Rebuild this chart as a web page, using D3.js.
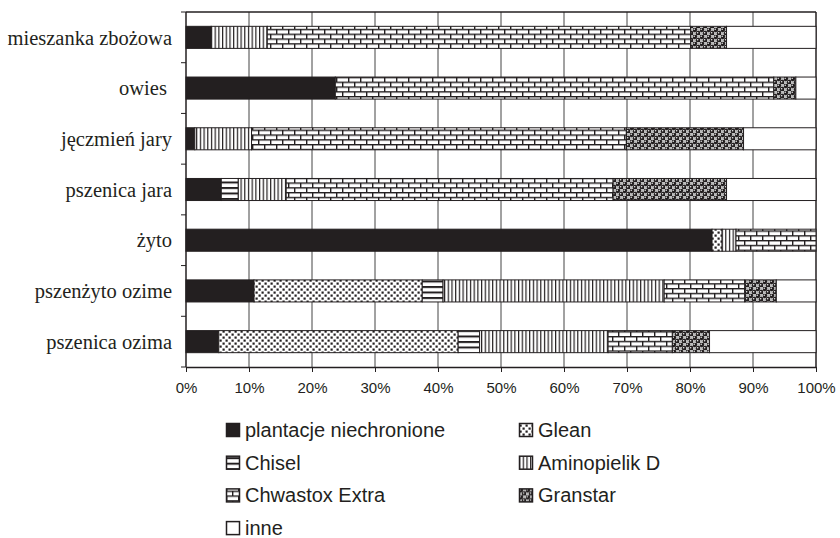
<!DOCTYPE html>
<html>
<head>
<meta charset="utf-8">
<script src="https://cdn.jsdelivr.net/npm/d3@7"></script>
<style>
	body { margin: 0; background: white; }
	svg { display: block; }
</style>
</head>
<body>
<script>
var categories = [
	'mieszanka zbożowa',
	'owies\u00A0',
	'jęczmień jary',
	'pszenica jara',
	'żyto',
	'pszenżyto ozime',
	'pszenica ozima'
]

var keys = [
	'plantacje niechronione',
	'Glean',
	'Chisel',
	'Aminopielik D',
	'Chwastox Extra',
	'Granstar',
	'inne'
]

// shares in %, in the order of categories
var niechronione = [4.0, 23.7, 1.4, 5.6, 83.5, 10.8, 5.2]
var glean        = [0, 0, 0, 0, 1.6, 26.7, 38.0]
var chisel       = [0, 0, 0, 2.7, 0, 3.3, 3.4]
var aminopielik  = [8.9, 0, 9.0, 7.6, 2.2, 35.1, 20.4]
var chwastox     = [67.2, 69.6, 59.5, 51.9, 12.7, 12.8, 10.2]
var granstar     = [5.7, 3.5, 18.6, 18.0, 0, 5.0, 5.9]
var inne         = [14.2, 3.2, 11.5, 14.2, 0, 6.3, 16.9]

var xTicks = [0, 10, 20, 30, 40, 50, 60, 70, 80, 90, 100]

var series = [niechronione, glean, chisel, aminopielik, chwastox, granstar, inne]

var rows = categories.map(function(c, i) {
	var r = {category: c}
	keys.forEach(function(k, j) { r[k] = series[j][i] })
	return r
})

var width = 840,
	height = 538

var svg = d3.select('body').append('svg')
	.attr('width', width)
	.attr('height', height)

var ink = '#231f20'

// PATTERNS
var defs = svg.append('defs')

var pGlean = defs.append('pattern')
	.attr('id', 'p_glean').attr('patternUnits', 'userSpaceOnUse')
	.attr('width', 6).attr('height', 6)
pGlean.append('rect').attr('width', 6).attr('height', 6).attr('fill', 'white')
pGlean.append('rect').attr('x', 0.5).attr('y', 0.5).attr('width', 2.2).attr('height', 2.2).attr('fill', ink)
pGlean.append('rect').attr('x', 3.5).attr('y', 3.5).attr('width', 2.2).attr('height', 2.2).attr('fill', ink)

var pChisel = defs.append('pattern')
	.attr('id', 'p_chisel').attr('patternUnits', 'userSpaceOnUse')
	.attr('width', 6).attr('height', 5.5)
pChisel.append('rect').attr('width', 6).attr('height', 5.5).attr('fill', 'white')
pChisel.append('rect').attr('y', 0).attr('width', 6).attr('height', 2).attr('fill', ink)

var pAmino = defs.append('pattern')
	.attr('id', 'p_amino').attr('patternUnits', 'userSpaceOnUse')
	.attr('width', 3.7).attr('height', 6)
pAmino.append('rect').attr('width', 3.7).attr('height', 6).attr('fill', 'white')
pAmino.append('rect').attr('x', 0).attr('width', 1.2).attr('height', 6).attr('fill', ink)

var pBrick = defs.append('pattern')
	.attr('id', 'p_brick').attr('patternUnits', 'userSpaceOnUse')
	.attr('width', 12).attr('height', 9.6)
pBrick.append('rect').attr('width', 12).attr('height', 9.6).attr('fill', 'white')
pBrick.append('rect').attr('y', 0).attr('width', 12).attr('height', 1.4).attr('fill', ink)
pBrick.append('rect').attr('y', 4.8).attr('width', 12).attr('height', 1.4).attr('fill', ink)
pBrick.append('rect').attr('x', 0).attr('y', 0).attr('width', 1.4).attr('height', 4.8).attr('fill', ink)
pBrick.append('rect').attr('x', 6).attr('y', 4.8).attr('width', 1.4).attr('height', 4.8).attr('fill', ink)

var pGran = defs.append('pattern')
	.attr('id', 'p_gran').attr('patternUnits', 'userSpaceOnUse')
	.attr('width', 7).attr('height', 7)
pGran.append('rect').attr('width', 7).attr('height', 7).attr('fill', '#bdbdbd')
pGran.append('circle').attr('cx', 1.75).attr('cy', 1.75).attr('r', 2.4).attr('fill', ink)
pGran.append('circle').attr('cx', 5.25).attr('cy', 5.25).attr('r', 2.4).attr('fill', ink)
pGran.append('circle').attr('cx', 1.2).attr('cy', 1.2).attr('r', 0.7).attr('fill', 'white')
pGran.append('circle').attr('cx', 4.7).attr('cy', 4.7).attr('r', 0.7).attr('fill', 'white')

var fills = d3.scaleOrdinal()
	.domain(keys)
	.range([ink, 'url(#p_glean)', 'url(#p_chisel)', 'url(#p_amino)', 'url(#p_brick)', 'url(#p_gran)', 'white'])

// SCALES
var x = d3.scaleLinear()
	.domain([0, 100])
	.range([186, 816])

var y = d3.scaleBand()
	.domain(categories)
	.range([12, 367])
	.paddingInner(0.565)
	.paddingOuter(0.2825)

// grid
svg.append('g')
	.selectAll('line')
	.data(xTicks.slice(1))
	.enter()
	.append('line')
		.attr('x1', d => x(d)).attr('x2', d => x(d))
		.attr('y1', y.range()[0]).attr('y2', y.range()[1])
		.attr('stroke', d => d == 100 ? ink : '#444')
		.attr('stroke-width', d => d == 100 ? 1.5 : 1)

// top border
svg.append('line')
	.attr('x1', x(0)).attr('x2', x(100))
	.attr('y1', y.range()[0]).attr('y2', y.range()[0])
	.attr('stroke', ink).attr('stroke-width', 1.5)

// BARS
var stacked = d3.stack().keys(keys)(rows)

svg.append('g')
	.selectAll('g')
	.data(stacked)
	.enter()
	.append('g')
		.attr('fill', d => fills(d.key))
	.selectAll('rect')
	.data(d => d.filter(s => s[1] - s[0] > 0))
	.enter()
	.append('rect')
		.attr('x', d => x(d[0]))
		.attr('width', d => x(d[1]) - x(d[0]))
		.attr('y', d => y(d.data.category))
		.attr('height', y.bandwidth())
		.attr('stroke', ink)
		.attr('stroke-width', 1)

// x axis
var xAxis = svg.append('g')
	.attr('transform', 'translate(0,' + y.range()[1] + ')')
	.call(d3.axisBottom(x)
		.tickValues(xTicks)
		.tickSize(5)
		.tickSizeOuter(0)
		.tickPadding(10)
		.tickFormat(d => d + '%'))

xAxis.select('.domain').attr('stroke', ink).attr('stroke-width', 1.5)
xAxis.selectAll('.tick line').attr('stroke', ink)
xAxis.selectAll('text')
	.attr('fill', ink)
	.style('font-family', '"Liberation Sans", Arial, sans-serif')
	.style('font-size', '15px')

// y axis: line, ticks at band boundaries, serif labels
var step = y.step()
var y0 = y.range()[0]

svg.append('line')
	.attr('x1', x(0)).attr('x2', x(0))
	.attr('y1', y.range()[0]).attr('y2', y.range()[1])
	.attr('stroke', ink).attr('stroke-width', 1.5)

svg.append('g')
	.selectAll('line')
	.data(d3.range(categories.length + 1))
	.enter()
	.append('line')
		.attr('x1', x(0) - 5).attr('x2', x(0))
		.attr('y1', i => y0 + i * step).attr('y2', i => y0 + i * step)
		.attr('stroke', ink)

svg.append('g')
	.selectAll('text')
	.data(categories)
	.enter()
	.append('text')
		.attr('x', 172)
		.attr('y', d => y(d) + y.bandwidth() / 2)
		.attr('dy', '0.35em')
		.attr('text-anchor', 'end')
		.attr('fill', ink)
		.style('font-family', '"Liberation Serif", "Times New Roman", serif')
		.style('font-size', '20.5px')
		.text(d => d)

// LEGEND
var legend = svg.append('g')
	.selectAll('g')
	.data(keys)
	.enter()
	.append('g')
		.attr('transform', (d, i) => 'translate(' + (i % 2 == 0 ? 226 : 519) + ',' + (430 + Math.floor(i / 2) * 32.7) + ')')

legend.append('rect')
	.attr('x', 0.5)
	.attr('y', -6.5)
	.attr('width', 13)
	.attr('height', 13)
	.attr('fill', d => fills(d))
	.attr('stroke', ink)
	.attr('stroke-width', 1.5)

legend.append('text')
	.attr('x', 19)
	.attr('y', 0)
	.attr('dy', '0.35em')
	.attr('fill', ink)
	.style('font-family', '"Liberation Sans", Arial, sans-serif')
	.style('font-size', '20px')
	.text(d => d)
</script>
</body>
</html>
